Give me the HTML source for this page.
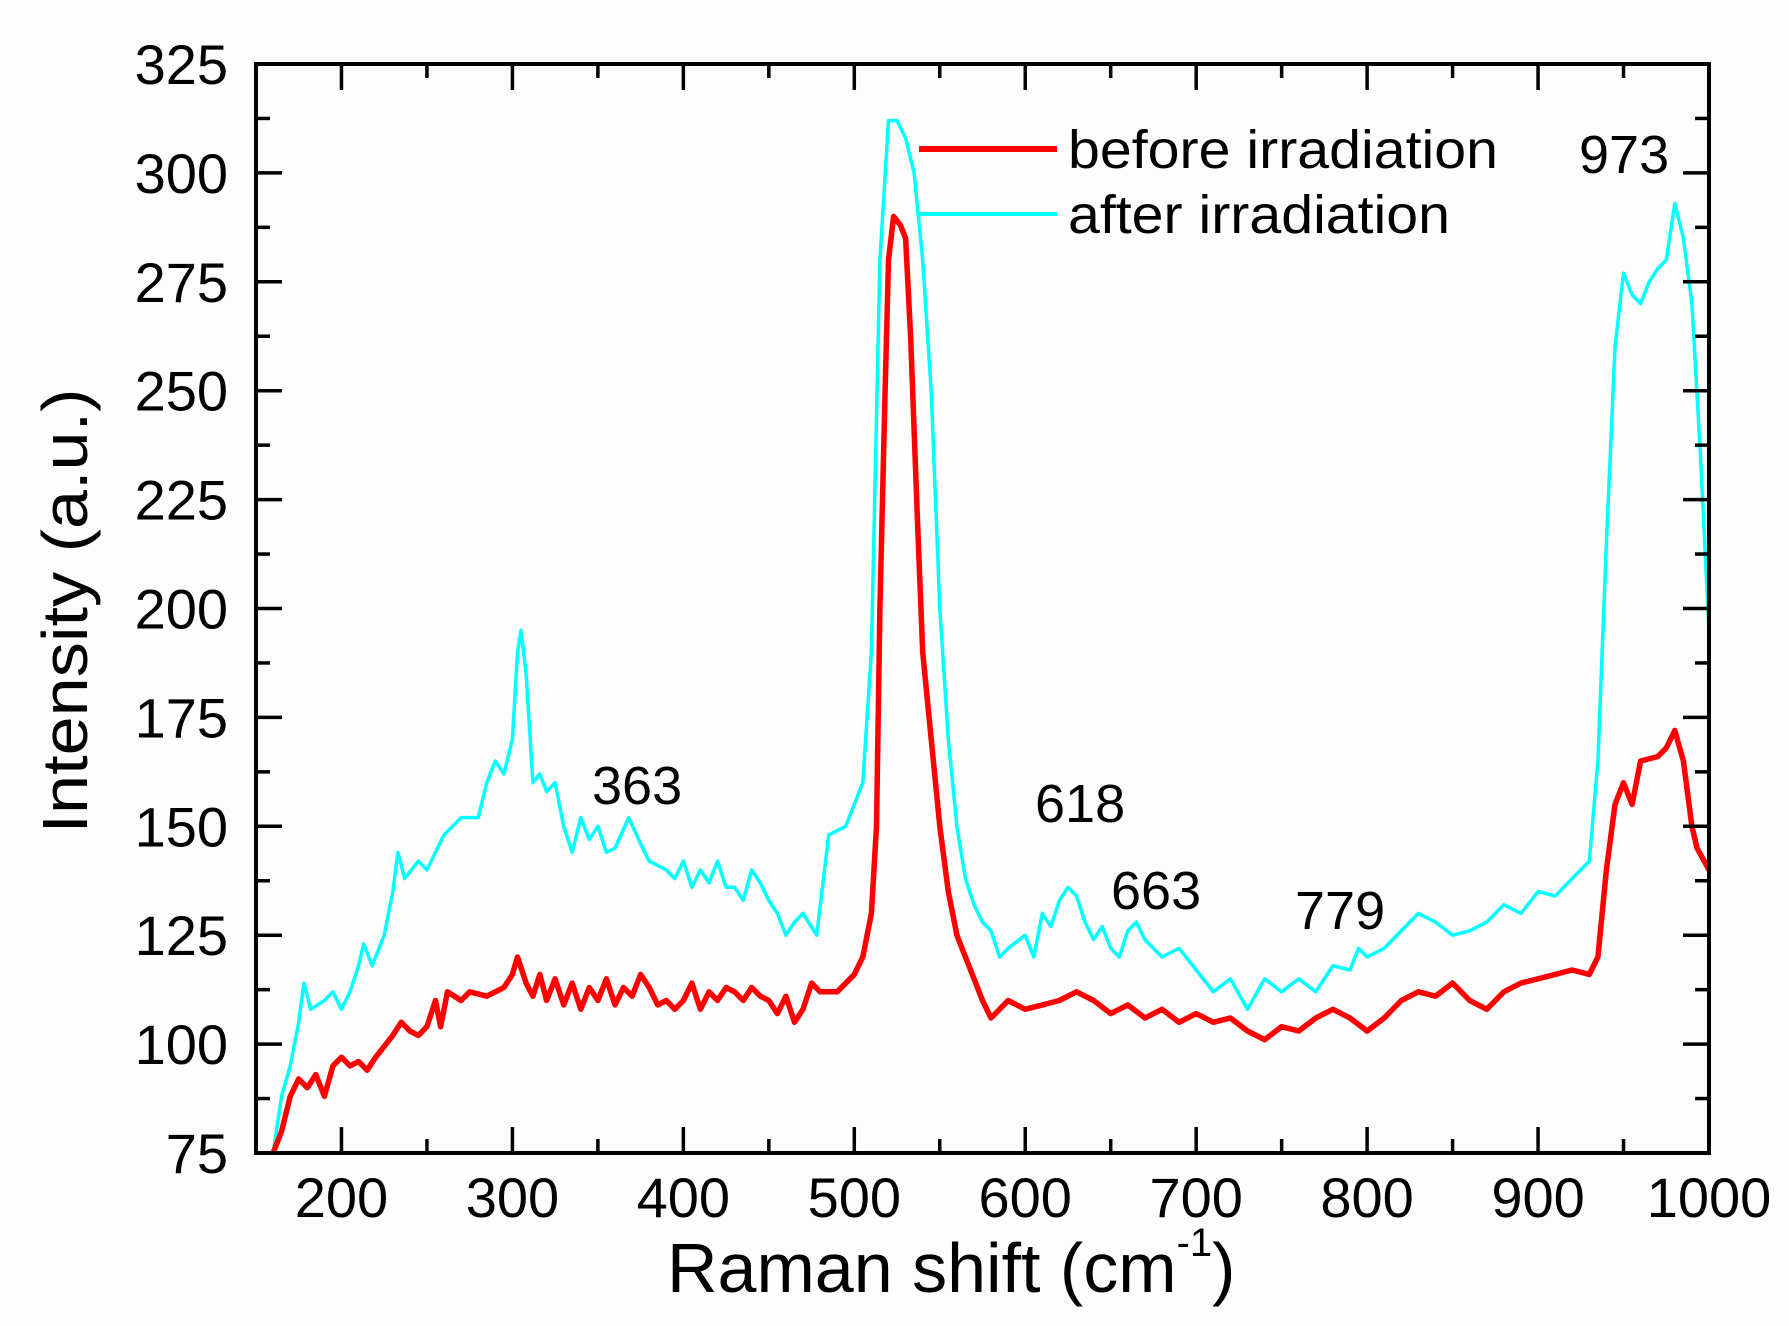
<!DOCTYPE html>
<html><head><meta charset="utf-8"><style>
html,body{margin:0;padding:0;background:#fdfdfd;}
svg{display:block;font-family:"Liberation Sans",Arial,sans-serif;}
</style></head><body>
<svg id="chart" width="1789" height="1326" viewBox="0 0 1789 1326" xmlns="http://www.w3.org/2000/svg">
<rect x="0" y="0" width="1789" height="1326" fill="#fdfdfd"/>
<g id="series"></g>
<g id="axes"></g>
<text x="0" y="0" transform="translate(87,611) rotate(-90)" text-anchor="middle" font-size="64" textLength="445" lengthAdjust="spacingAndGlyphs">Intensity (a.u.)</text>
<text x="667" y="1292" font-size="70">Raman shift (cm<tspan dy="-36" font-size="40">-1</tspan><tspan dy="36">)</tspan></text>
<line x1="919" y1="149" x2="1057" y2="149" stroke="#ff0000" stroke-width="6"/>
<text x="1068" y="168" font-size="54" textLength="430" lengthAdjust="spacingAndGlyphs">before irradiation</text>
<line x1="919" y1="214" x2="1057" y2="214" stroke="#00ffff" stroke-width="4"/>
<text x="1068" y="233" font-size="54" textLength="382" lengthAdjust="spacingAndGlyphs">after irradiation</text>
<text x="1579" y="173" font-size="54">973</text>
<text x="592" y="804" font-size="54">363</text>
<text x="1035" y="822" font-size="54">618</text>
<text x="1111" y="909" font-size="54">663</text>
<text x="1295" y="929" font-size="54">779</text>
</svg>
<script>
const xTicks = [200,300,400,500,600,700,800,900,1000];
const yTicks = [75,100,125,150,175,200,225,250,275,300,325];
const beforeX = [160,165,170,175,180,185,190,195,200,205,210,215,220,230,235,240,245,250,255,258,262,270,275,285,295,300,303,308,312,316,320,325,330,335,340,345,350,355,360,365,370,375,380,385,390,395,400,405,410,415,420,425,430,435,440,445,450,455,460,465,470,475,480,490,500,505,510,513,515,518,520,523,527,530,533,537,540,545,550,555,560,565,570,575,580,585,590,600,610,620,630,640,650,660,670,680,690,700,710,720,730,740,750,760,770,780,790,800,810,820,830,840,850,860,870,880,890,900,910,920,930,935,940,945,950,955,960,970,975,980,985,990,993,1000];
const beforeY = [75,80,88,92,90,93,88,95,97,95,96,94,97,102,105,103,102,104,110,104,112,110,112,111,113,116,120,114,111,116,110,115,109,114,108,113,110,115,109,113,111,116,113,109,110,108,110,114,108,112,110,113,112,110,113,111,110,107,111,105,108,114,112,112,116,120,130,150,200,250,280,290,288,285,262,220,190,170,150,135,125,120,115,110,106,108,110,108,109,110,112,110,107,109,106,108,105,107,105,106,103,101,104,103,106,108,106,103,106,110,112,111,114,110,108,112,114,115,116,117,116,120,140,155,160,155,165,166,168,172,165,150,145,140];
const afterX = [160,165,170,175,178,182,190,195,200,205,210,213,218,225,230,233,237,245,250,260,265,270,280,285,290,295,300,303,305,308,312,316,320,325,330,335,340,345,350,355,360,368,375,380,390,395,400,405,410,415,420,425,430,435,440,445,450,455,460,465,470,478,485,495,505,510,515,520,525,530,535,540,545,550,555,560,565,570,575,580,585,590,600,605,610,615,620,625,630,635,640,645,650,655,660,665,670,680,690,700,710,720,730,740,750,760,770,780,790,795,800,810,820,830,840,850,860,870,880,890,900,910,920,930,935,940,945,950,955,960,965,970,975,980,985,990,995,1000];
const afterY = [75,88,95,105,114,108,110,112,108,112,118,123,118,125,135,144,138,142,140,148,150,152,152,160,165,162,170,190,195,185,160,162,158,160,150,144,152,147,150,144,145,152,146,142,140,138,142,136,140,137,142,136,136,133,140,137,133,130,125,128,130,125,148,150,160,190,280,312,312,308,300,280,250,200,170,150,138,132,128,126,120,122,125,120,130,127,133,136,134,128,124,127,122,120,126,128,124,120,122,117,112,115,108,115,112,115,112,118,117,122,120,122,126,130,128,125,126,128,132,130,135,134,138,142,165,215,260,277,272,270,275,278,280,293,285,270,235,195];

const X0=256, X1=1709, Y0=1153, Y1=64, XMIN=150, XMAX=1000, YMIN=75, YMAX=325;
const sx = v => X0 + (v-XMIN)/(XMAX-XMIN)*(X1-X0);
const sy = v => Y0 - (v-YMIN)/(YMAX-YMIN)*(Y0-Y1);
const NS="http://www.w3.org/2000/svg";
const series=document.getElementById('series');
const axes=document.getElementById('axes');
function line(xs,ys,color,w,name){
  const p=document.createElementNS(NS,'polyline');
  p.setAttribute('points', xs.map((x,i)=>sx(x).toFixed(1)+','+sy(ys[i]).toFixed(1)).join(' '));
  p.setAttribute('fill','none');p.setAttribute('stroke',color);p.setAttribute('stroke-width',w);
  p.setAttribute('stroke-linejoin','round');
  
  
  series.appendChild(p);
}
line(afterX,afterY,'#00ffff',3.5,'after-irradiation-line');
line(beforeX,beforeY,'#ff0000',5.5,'before-irradiation-line');
function seg(x1,y1,x2,y2,w,name){
  const l=document.createElementNS(NS,'line');
  l.setAttribute('x1',x1);l.setAttribute('y1',y1);l.setAttribute('x2',x2);l.setAttribute('y2',y2);
  l.setAttribute('stroke','#000');l.setAttribute('stroke-width',w);
  
  
  axes.appendChild(l);
}
function txt(x,y,s,anchor,name){
  const t=document.createElementNS(NS,'text');
  t.setAttribute('x',x);t.setAttribute('y',y);t.setAttribute('text-anchor',anchor);t.setAttribute('font-size','56');
  t.textContent=s;
  
  
  axes.appendChild(t);
}
const frame=document.createElementNS(NS,'rect');
frame.setAttribute('x',X0);frame.setAttribute('y',Y1);frame.setAttribute('width',X1-X0);frame.setAttribute('height',Y0-Y1);
frame.setAttribute('fill','none');frame.setAttribute('stroke','#000');frame.setAttribute('stroke-width','4');


axes.appendChild(frame);
xTicks.forEach(v=>{
  const x=sx(v);
  seg(x,Y0,x,Y0-26,3.5,'x-tick');seg(x,Y1,x,Y1+26,3.5,'x-tick-top');
  txt(x,1217,String(v),'middle','x-tick-label');
  const m=sx(v-50);
  if(v-50>XMIN){seg(m,Y0,m,Y0-14,3.5,'x-minor-tick');seg(m,Y1,m,Y1+14,3.5,'x-minor-tick-top');}
});
yTicks.forEach(v=>{
  const y=sy(v);
  seg(X0,y,X0+26,y,3.5,'y-tick');seg(X1,y,X1-26,y,3.5,'y-tick-right');
  txt(228,y+20,String(v),'end','y-tick-label');
  if(v<YMAX){const m=sy(v+12.5);seg(X0,m,X0+14,m,3.5,'y-minor-tick');seg(X1,m,X1-14,m,3.5,'y-minor-tick-right');}
});
</script>
</body></html>
